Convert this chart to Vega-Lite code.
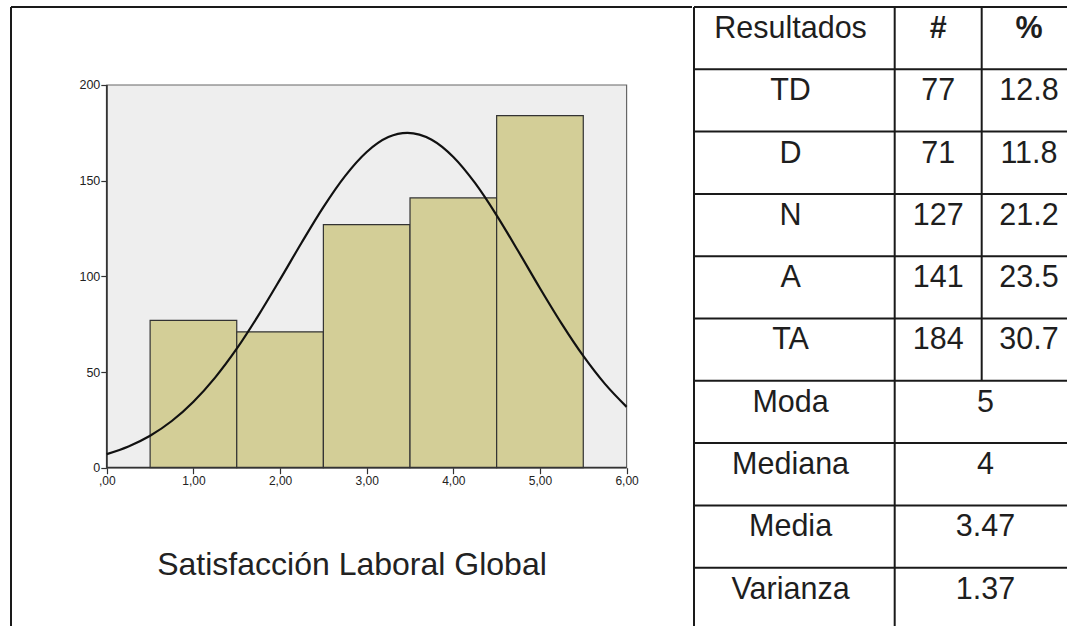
{
  "$schema": "https://vega.github.io/schema/vega-lite/v6.json",
  "padding": {"left": 10, "top": 6, "right": 0, "bottom": 0},
  "spacing": 0,
  "background": "white",
  "config": {"view": {"stroke": null}, "font": "Liberation Sans"},
  "datasets": {
    "bins": [
      {"start": 0.5, "end": 1.5, "count": 77},
      {"start": 1.5, "end": 2.5, "count": 71},
      {"start": 2.5, "end": 3.5, "count": 127},
      {"start": 3.5, "end": 4.5, "count": 141},
      {"start": 4.5, "end": 5.5, "count": 184}
    ],
    "curve": [
      {"x": 0, "y": 7.1}, {"x": 0.25, "y": 11.1}, {"x": 0.5, "y": 16.7}, {"x": 0.75, "y": 24.4},
      {"x": 1, "y": 34.5}, {"x": 1.25, "y": 47.1}, {"x": 1.5, "y": 62.2}, {"x": 1.75, "y": 79.6},
      {"x": 2, "y": 98.4}, {"x": 2.25, "y": 117.7}, {"x": 2.5, "y": 136.2}, {"x": 2.75, "y": 152.4},
      {"x": 3, "y": 165.0}, {"x": 3.25, "y": 172.8}, {"x": 3.47, "y": 175.0}, {"x": 3.75, "y": 171.4},
      {"x": 4, "y": 162.4}, {"x": 4.25, "y": 148.8}, {"x": 4.5, "y": 131.9}, {"x": 4.75, "y": 113.1},
      {"x": 5, "y": 93.8}, {"x": 5.25, "y": 75.3}, {"x": 5.5, "y": 58.4}, {"x": 5.75, "y": 43.8},
      {"x": 6, "y": 31.8}
    ],
    "table": [
      {"r": 0, "label": "Resultados", "n": "#", "pct": "%"},
      {"r": 1, "label": "TD", "n": "77", "pct": "12.8"},
      {"r": 2, "label": "D", "n": "71", "pct": "11.8"},
      {"r": 3, "label": "N", "n": "127", "pct": "21.2"},
      {"r": 4, "label": "A", "n": "141", "pct": "23.5"},
      {"r": 5, "label": "TA", "n": "184", "pct": "30.7"},
      {"r": 6, "label": "Moda", "val": "5"},
      {"r": 7, "label": "Mediana", "val": "4"},
      {"r": 8, "label": "Media", "val": "3.47"},
      {"r": 9, "label": "Varianza", "val": "1.37"}
    ]
  },
  "hconcat": [
    {
      "width": 681,
      "height": 620,
      "layer": [
        {
          "data": {"values": [{}]},
          "mark": {"type": "rect", "fill": "#eeeeee", "stroke": "#666666", "strokeWidth": 1.2},
          "encoding": {
            "x": {
              "datum": 0, "type": "quantitative",
              "scale": {"domain": [-1.1059, 6.755], "nice": false, "zero": false},
              "axis": {
                "orient": "bottom", "offset": -159.3, "values": [0, 1, 2, 3, 4, 5, 6],
                "labelExpr": "datum.value === 0 ? ',00' : datum.value + ',00'",
                "domain": false, "grid": false, "tickSize": 6, "tickColor": "#333333", "tickWidth": 1.2,
                "labelColor": "#222222", "labelFontSize": 12, "labelPadding": 2,
                "labelFlush": false, "labelOverlap": false,
                "title": "Satisfacción Laboral Global", "titleFontSize": 32, "titleFontWeight": "normal",
                "titleColor": "#222222", "titlePadding": 63
              }
            },
            "x2": {"datum": 6},
            "y": {
              "datum": 0, "type": "quantitative",
              "scale": {"domain": [-83.25, 240.76], "nice": false, "zero": false},
              "axis": {
                "orient": "left", "offset": -95.8, "values": [0, 50, 100, 150, 200],
                "domain": false, "grid": false, "tickSize": 6, "tickColor": "#333333", "tickWidth": 1.2,
                "labelColor": "#222222", "labelFontSize": 12.5, "labelPadding": 1, "title": null
              }
            },
            "y2": {"datum": 200}
          }
        },
        {
          "data": {"name": "bins"},
          "mark": {"type": "rect", "fill": "#d3ce97", "stroke": "#333333", "strokeWidth": 1.2},
          "encoding": {
            "x": {"field": "start", "type": "quantitative"},
            "x2": {"field": "end"},
            "y": {"field": "count", "type": "quantitative"},
            "y2": {"datum": 0}
          }
        },
        {
          "data": {"values": [{}]},
          "mark": {"type": "rule", "stroke": "#333333", "strokeWidth": 1.8},
          "encoding": {"x": {"datum": 0, "type": "quantitative"}, "y": {"datum": 0, "type": "quantitative"}, "y2": {"datum": 200}}
        },
        {
          "data": {"values": [{}]},
          "mark": {"type": "rule", "stroke": "#333333", "strokeWidth": 1.8},
          "encoding": {"y": {"datum": 0, "type": "quantitative"}, "x": {"datum": 0, "type": "quantitative"}, "x2": {"datum": 6}}
        },
        {
          "data": {"name": "curve"},
          "mark": {"type": "line", "stroke": "#111111", "strokeWidth": 2.2, "interpolate": "monotone"},
          "encoding": {
            "x": {"field": "x", "type": "quantitative"},
            "y": {"field": "y", "type": "quantitative"}
          }
        },
        {
          "data": {"values": [{}]},
          "mark": {"type": "rule", "stroke": "#1a1a1a", "strokeWidth": 2},
          "encoding": {"x": {"datum": -1.1059, "type": "quantitative"}}
        },
        {
          "data": {"values": [{}]},
          "mark": {"type": "rule", "stroke": "#1a1a1a", "strokeWidth": 2},
          "encoding": {"y": {"datum": 240.76, "type": "quantitative"}}
        }
      ]
    },
    {
      "width": 376,
      "height": 620,
      "data": {"name": "table"},
      "layer": [
        {
          "mark": {"type": "rule", "stroke": "#1a1a1a", "strokeWidth": 2},
          "encoding": {
            "y": {"field": "r", "type": "quantitative", "scale": {"domain": [0, 9.952], "reverse": true, "nice": false, "zero": false}, "axis": null},
            "x": {"datum": 0, "type": "quantitative", "scale": {"domain": [0, 4.322], "nice": false, "zero": false}, "axis": null},
            "x2": {"datum": 4.4}
          }
        },
        {
          "data": {"values": [{}]},
          "mark": {"type": "rule", "stroke": "#1a1a1a", "strokeWidth": 2},
          "encoding": {"x": {"datum": 0, "type": "quantitative"}}
        },
        {
          "data": {"values": [{}]},
          "mark": {"type": "rule", "stroke": "#1a1a1a", "strokeWidth": 2},
          "encoding": {"x": {"datum": 2.307, "type": "quantitative"}}
        },
        {
          "data": {"values": [{}]},
          "mark": {"type": "rule", "stroke": "#1a1a1a", "strokeWidth": 2},
          "encoding": {"x": {"datum": 3.307, "type": "quantitative"}, "y": {"datum": 0, "type": "quantitative"}, "y2": {"datum": 6}}
        },
        {
          "mark": {"type": "text", "fontSize": 30.5, "baseline": "alphabetic", "align": "center", "yOffset": 31, "color": "#1e1e1e"},
          "encoding": {
            "text": {"field": "label"},
            "x": {"datum": 1.11, "type": "quantitative"},
            "y": {"field": "r", "type": "quantitative"}
          }
        },
        {
          "transform": [{"filter": "isValid(datum.n) && datum.r > 0"}],
          "mark": {"type": "text", "fontSize": 30.5, "baseline": "alphabetic", "align": "center", "yOffset": 31, "color": "#1e1e1e"},
          "encoding": {
            "text": {"field": "n"},
            "x": {"datum": 2.807, "type": "quantitative"},
            "y": {"field": "r", "type": "quantitative"}
          }
        },
        {
          "transform": [{"filter": "isValid(datum.pct) && datum.r > 0"}],
          "mark": {"type": "text", "fontSize": 30.5, "baseline": "alphabetic", "align": "center", "yOffset": 31, "color": "#1e1e1e"},
          "encoding": {
            "text": {"field": "pct"},
            "x": {"datum": 3.85, "type": "quantitative"},
            "y": {"field": "r", "type": "quantitative"}
          }
        },
        {
          "transform": [{"filter": "datum.r === 0"}],
          "mark": {"type": "text", "fontSize": 30.5, "fontWeight": "bold", "baseline": "alphabetic", "align": "center", "yOffset": 31, "color": "#1e1e1e"},
          "encoding": {
            "text": {"field": "n"},
            "x": {"datum": 2.807, "type": "quantitative"},
            "y": {"field": "r", "type": "quantitative"}
          }
        },
        {
          "transform": [{"filter": "datum.r === 0"}],
          "mark": {"type": "text", "fontSize": 30.5, "fontWeight": "bold", "baseline": "alphabetic", "align": "center", "yOffset": 31, "color": "#1e1e1e"},
          "encoding": {
            "text": {"field": "pct"},
            "x": {"datum": 3.85, "type": "quantitative"},
            "y": {"field": "r", "type": "quantitative"}
          }
        },
        {
          "transform": [{"filter": "isValid(datum.val)"}],
          "mark": {"type": "text", "fontSize": 30.5, "baseline": "alphabetic", "align": "center", "yOffset": 31, "color": "#1e1e1e"},
          "encoding": {
            "text": {"field": "val"},
            "x": {"datum": 3.35, "type": "quantitative"},
            "y": {"field": "r", "type": "quantitative"}
          }
        }
      ]
    }
  ]
}
